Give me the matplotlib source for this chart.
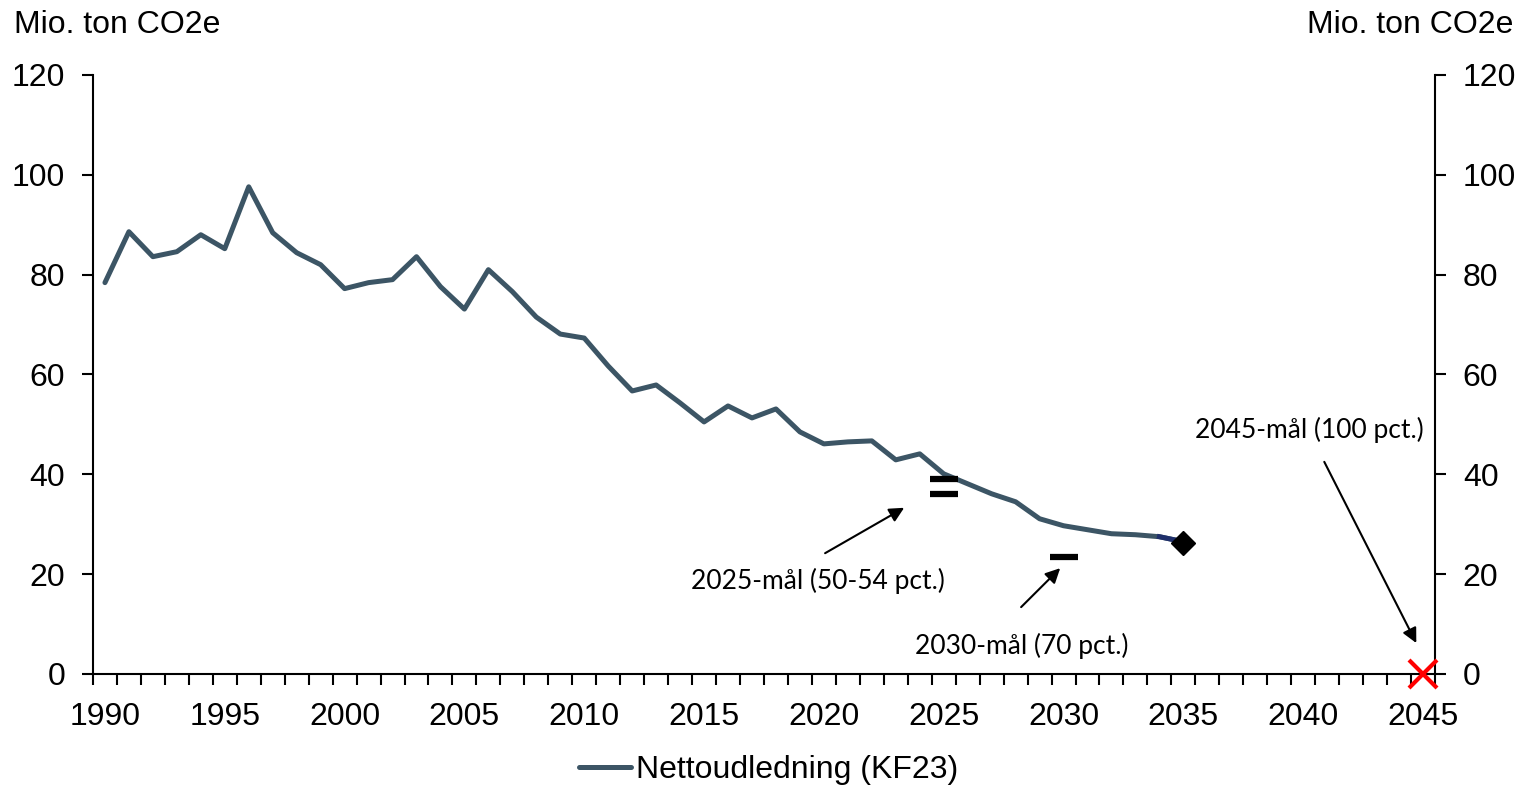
import matplotlib.pyplot as plt
import numpy as np

# Nettoudledning (KF23), mio. ton CO2e
years = list(range(1990, 2036))
emissions = [78.4, 88.6, 83.6, 84.6, 88.0, 85.2, 97.6, 88.4, 84.4, 82.0,
             77.2, 78.4, 79.0, 83.6, 77.6, 73.1, 81.0, 76.6, 71.5, 68.1,
             67.3, 61.7, 56.7, 57.9, 54.3, 50.5, 53.7, 51.3, 53.1, 48.5,
             46.1, 46.5, 46.7, 42.9, 44.1, 40.1, 38.1, 36.1, 34.5, 31.1,
             29.7, 28.9, 28.1, 27.9, 27.5, 26.5]

# targets
target_2025_years = [2025, 2025]
target_2025_vals = [39.1, 36.1]
target_2030_years = [2030]
target_2030_vals = [23.5]
point_2035_years = [2035]
point_2035_vals = [26.3]
target_2045_years = [2045]
target_2045_vals = [0]

label_years = list(range(1990, 2050, 5))
y_ticks = [0, 20, 40, 60, 80, 100, 120]

line_color = '#3C5565'
font = 'Liberation Sans'
note_font = 'Lato'
fs = 23
note_fs = 19

fig = plt.figure(figsize=(15.19, 7.86), dpi=100)
ax = fig.add_axes([0.0612, 0.1425, 0.8835, 0.7621])

ln, = ax.plot(years, emissions, color=line_color, lw=3.6, solid_capstyle='round',
              solid_joinstyle='round', zorder=3, label='Nettoudledning (KF23)')
ax.plot(years[-2:], emissions[-2:], color='#1F2F6B', lw=3.6, zorder=3)

ax.plot(target_2025_years, target_2025_vals, ls='none', marker='_', ms=19.5,
        mew=4.5, color='black', zorder=4)
ax.plot(target_2030_years, target_2030_vals, ls='none', marker='_', ms=19.5,
        mew=4.5, color='black', zorder=4)
ax.plot(point_2035_years, point_2035_vals, ls='none', marker='D', ms=12.5,
        color='black', zorder=5)
ax.plot(target_2045_years, target_2045_vals, ls='none', marker='x', ms=20,
        mew=3, color='#FF0000', zorder=6, clip_on=False)

arrow = dict(arrowstyle='-|>', color='black', lw=1.5, mutation_scale=22,
             shrinkA=0, shrinkB=0)
ax.annotate('', xy=(2023.35, 33.3), xytext=(2020.05, 24.2), arrowprops=arrow)
ax.text(2019.74, 18.6, '2025-mål (50-54 pct.)', ha='center', va='center',
        fontsize=note_fs, fontfamily=note_font)
ax.annotate('', xy=(2029.86, 21.2), xytext=(2028.23, 13.4), arrowprops=arrow)
ax.text(2028.27, 5.6, '2030-mål (70 pct.)', ha='center', va='center',
        fontsize=note_fs, fontfamily=note_font)
ax.annotate('', xy=(2044.72, 6.2), xytext=(2040.88, 42.5), arrowprops=arrow)
ax.text(2040.27, 48.9, '2045-mål (100 pct.)', ha='center', va='center',
        fontsize=note_fs, fontfamily=note_font)

ax.set_xlim(1989.5, 2045.5)
ax.set_ylim(0, 120)
ax.set_xticks(label_years)
ax.set_xticklabels([str(y) for y in label_years], fontsize=fs, fontfamily=font)
ax.set_xticks(np.arange(1989.5, 2046, 1), minor=True)
ax.tick_params(axis='x', which='major', length=0, pad=20)
ax.tick_params(axis='x', which='minor', length=8, width=1.5, direction='out')
ax.set_yticks(y_ticks)
ax.set_yticklabels([str(v) for v in y_ticks], fontsize=fs, fontfamily=font)
ax.tick_params(axis='y', which='both', left=True, right=True, labelleft=True,
               labelright=True, length=8, width=1.5, direction='out', pad=12)

for side in ['left', 'bottom', 'right']:
    ax.spines[side].set_linewidth(1.5)
ax.spines['top'].set_visible(False)

fig.text(0.009, 0.968, 'Mio. ton CO2e', fontsize=fs, fontfamily=font, va='center')
fig.text(0.996, 0.968, 'Mio. ton CO2e', fontsize=fs, fontfamily=font,
         va='center', ha='right')

leg = fig.legend(handles=[ln], loc='center', bbox_to_anchor=(0.506, 0.02),
                 frameon=False, prop={'family': font, 'size': fs},
                 handlelength=1.65, handletextpad=0.15, borderaxespad=0)

fig.savefig('out.png', dpi=100)
